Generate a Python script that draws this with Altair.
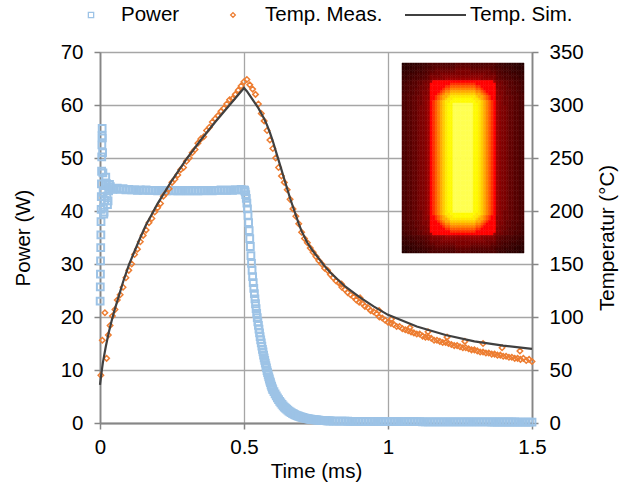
import altair as alt
import numpy as np
import pandas as pd

# ---------------- data ----------------
LEGEND = ["Power", "Temp. Meas.", "Temp. Sim."]

# Power (W) – start-up spike, ringing, plateau, switch-off decay, tail
PW_SPIKE_T = [0.0005, 0.001, 0.0015, 0.002, 0.0025, 0.003, 0.0035, 0.004, 0.0045, 0.005,
              0.0055, 0.006, 0.0065, 0.007, 0.0075]
PW_SPIKE = [23.0, 25.7, 28.1, 30.6, 33.1, 35.5, 38.0, 40.3, 42.7, 45.1,
            47.5, 50.2, 52.5, 54.2, 55.6]
PW_OSC_T = [0.008, 0.009, 0.010, 0.011, 0.012, 0.013, 0.014, 0.016, 0.018, 0.020,
            0.022, 0.024, 0.026, 0.028, 0.030, 0.033, 0.036, 0.040, 0.045]
PW_OSC = [53.8, 51.0, 47.2, 43.5, 40.6, 39.4, 39.8, 42.0, 45.3, 46.4,
          45.2, 42.8, 41.2, 41.9, 43.8, 45.0, 44.6, 44.2, 44.1]
PW_PLATEAU_START, PW_PLATEAU_STEP = 0.05, 0.01
PW_PLATEAU = [44.2, 44.3, 44.1, 44.2, 44.0, 44.1, 44.0, 44.0, 43.9, 44.0,
              43.9, 44.0, 43.9, 43.9, 43.9, 43.8, 43.9, 43.9, 43.8, 43.9,
              43.8, 43.9, 43.8, 43.8, 43.9, 43.8, 43.8, 43.9, 43.8, 43.8,
              43.9, 43.8, 43.9, 43.9, 43.8, 43.9, 43.9, 44.0, 43.9, 43.9,
              44.0, 43.9, 44.0, 44.0, 44.1, 44.0]
# fast switch-off, sampled every 0.002 ms from 0.502 ms
PW_DROP_START, PW_DROP_STEP = 0.502, 0.002
PW_DROP = [43.9, 43.6, 43.1, 42.4, 41.5, 40.4, 39.2, 37.8, 36.3, 34.8,
           33.3, 31.6, 30.1, 28.8, 27.6, 26.5, 25.4, 24.4, 23.4, 22.5,
           21.6, 20.7, 19.9, 19.1, 18.4, 17.7, 17.0, 16.3, 15.7, 15.1,
           14.5, 13.9, 13.4, 12.8, 12.3, 11.8, 11.3, 10.8, 10.4, 9.9,
           9.5, 9.1, 8.7, 8.3, 7.9, 7.6, 7.2, 6.9, 6.6, 6.3]
# slow part of the decay, every 0.004 ms from 0.604 ms
PW_DECAY_START, PW_DECAY_STEP = 0.604, 0.004
PW_DECAY = [5.9, 5.5, 5.1, 4.75, 4.4, 4.1, 3.8, 3.5, 3.25, 3.0,
            2.8, 2.6, 2.42, 2.25, 2.1, 1.96, 1.83, 1.71, 1.6, 1.5,
            1.41, 1.32, 1.24, 1.17, 1.1, 1.04, 0.98, 0.93, 0.88, 0.83,
            0.79, 0.75, 0.71, 0.68, 0.65, 0.62, 0.59, 0.57, 0.55, 0.53,
            0.51, 0.49, 0.47, 0.46, 0.44, 0.43, 0.42, 0.41, 0.40, 0.39]
PW_TAIL_START, PW_TAIL_STEP = 0.81, 0.01
PW_TAIL = [0.37, 0.36, 0.35, 0.34, 0.34, 0.33, 0.32, 0.32, 0.31,
           0.31, 0.30, 0.30, 0.29, 0.29, 0.28, 0.28, 0.28, 0.27, 0.27,
           0.27, 0.26, 0.26, 0.26, 0.25, 0.25, 0.25, 0.25, 0.24, 0.24,
           0.24, 0.24, 0.23, 0.23, 0.23, 0.23, 0.23, 0.22, 0.22, 0.22,
           0.22, 0.22, 0.22, 0.21, 0.21, 0.21, 0.21, 0.21, 0.21, 0.20,
           0.20, 0.20, 0.20, 0.20, 0.20, 0.20, 0.19, 0.19, 0.19, 0.19,
           0.19, 0.19, 0.19, 0.19, 0.19, 0.18, 0.18, 0.18, 0.18, 0.18,
           0.18]

# Measured temperature (°C)
MEAS_EARLY_T = [0.003, 0.008, 0.017, 0.023, 0.029, 0.035, 0.043, 0.052, 0.060]
MEAS_EARLY = [45, 78, 104, 61, 83, 92, 101, 107, 116]
MEAS_START, MEAS_STEP = 0.07, 0.01
MEAS = [121, 128, 137, 144, 150, 159, 164, 171, 177, 182,
        189, 193, 199, 203, 207, 214, 217, 221, 227, 230,
        234, 239, 241, 247, 250, 255, 258, 264, 268, 270,
        276, 279, 284, 287, 290, 294, 297, 301, 305, 306,
        310, 314, 318, 322,
        324, 319, 315, 310, 301, 292, 285, 276, 267, 259,
        250, 241, 233, 227, 220, 211, 202, 195, 188, 180,
        174, 170, 165, 161, 157, 153, 150, 146, 144, 140,
        137, 134, 132, 128, 126, 123, 121, 119, 116, 114,
        113, 110, 109, 106, 105, 103, 100, 99, 97, 95,
        94, 93, 91, 91, 89, 88, 87, 86, 85, 84,
        84, 82, 81, 81, 80, 78, 78, 77, 76, 76,
        75, 74, 73, 73, 72, 71, 71, 70, 69, 69,
        68, 67, 67, 66, 66, 65, 65, 64, 64, 63,
        63, 62, 62, 61, 61, 60, 61, 59, 60, 58]
MEAS_OUT_T = [0.839, 0.903, 0.969, 1.012, 1.076, 1.139, 1.205, 1.267, 1.330, 1.396, 1.458]
MEAS_OUT = [131, 118, 106, 98, 90, 86, 81, 77, 75, 71, 68]

# Simulated temperature (°C)
SIM_T = [0, 0.005, 0.01, 0.02, 0.03, 0.04, 0.05, 0.06, 0.07, 0.08,
         0.09, 0.10, 0.12, 0.14, 0.16, 0.18, 0.20, 0.25, 0.30, 0.35,
         0.40, 0.45, 0.50, 0.51, 0.52, 0.53, 0.54, 0.55, 0.56, 0.57,
         0.58, 0.59, 0.60, 0.61, 0.62, 0.63, 0.64, 0.65, 0.66, 0.67,
         0.68, 0.69, 0.70, 0.72, 0.74, 0.76, 0.78, 0.80, 0.85, 0.90,
         0.95, 1.00, 1.10, 1.20, 1.30, 1.40, 1.50]
SIM = [36, 47, 57, 72, 85, 96, 106, 115, 124, 133,
       141, 149, 162, 175, 187, 197, 207, 229, 249, 267,
       284, 300, 316, 313, 309, 305, 301, 297, 292, 287,
       281, 274, 266, 257, 248, 239, 230, 221, 212, 204,
       196, 188, 181, 170, 162, 155, 148, 142, 129, 119,
       110, 102, 91, 83, 77, 73, 70]

# Inset: thermal field of the heater, separable column / row profiles
INSET_COL = ([0.36, 0.39, 0.42, 0.45, 0.48, 0.51, 0.54, 0.58, 0.62, 0.66, 0.71]
             + [0.86, 0.88, 0.90, 0.92, 0.94, 0.957, 0.972, 0.984, 0.993, 0.998,
                1.0, 1.0, 1.0, 1.0, 1.0, 1.0,
                0.998, 0.993, 0.984, 0.972, 0.957, 0.94, 0.92, 0.90, 0.88, 0.86]
             + [0.71, 0.66, 0.62, 0.58, 0.54, 0.51, 0.48, 0.45, 0.42, 0.39, 0.36])
INSET_ROW = ([0.40, 0.46, 0.52, 0.58, 0.63, 0.68, 0.73]
             + [0.86, 0.88, 0.90, 0.92, 0.94, 0.957, 0.972, 0.984, 0.993, 0.998]
             + [1.0] * 42
             + [0.998, 0.993, 0.984, 0.972, 0.957, 0.94, 0.92, 0.90, 0.88, 0.86]
             + [0.73, 0.68, 0.63, 0.58, 0.52, 0.46, 0.40])
INSET_LEVELS = [0.16, 0.22, 0.28, 0.34, 0.40, 0.46, 0.52, 0.58, 0.64, 0.70,
                0.74, 0.87, 0.89, 0.91, 0.93, 0.95, 0.965, 0.98, 0.995]
INSET_COLORS = ["#240000", "#2e0000", "#380000", "#420000", "#4c0000", "#570000",
                "#630000", "#700000", "#7e0000", "#8d0000", "#9e0000", "#ff0000",
                "#ff3000", "#ff5c00", "#ff8400", "#ffaa00", "#ffcc00", "#ffe800",
                "#fffa00", "#ffff50"]

# ---------------- tables ----------------
def grid(start, step, n):
    return list(np.round(start + step * np.arange(n), 4))

power_df = pd.DataFrame({
    "t": PW_SPIKE_T + PW_OSC_T
         + grid(PW_PLATEAU_START, PW_PLATEAU_STEP, len(PW_PLATEAU))
         + grid(PW_DROP_START, PW_DROP_STEP, len(PW_DROP))
         + grid(PW_DECAY_START, PW_DECAY_STEP, len(PW_DECAY))
         + grid(PW_TAIL_START, PW_TAIL_STEP, len(PW_TAIL)),
    "p": PW_SPIKE + PW_OSC + PW_PLATEAU + PW_DROP + PW_DECAY + PW_TAIL,
})
meas_df = pd.DataFrame({
    "t": MEAS_EARLY_T + grid(MEAS_START, MEAS_STEP, len(MEAS)) + MEAS_OUT_T,
    "T": MEAS_EARLY + MEAS + MEAS_OUT,
})
sim_df = pd.DataFrame({"t": SIM_T, "T": SIM})
inset_df = pd.DataFrame([
    {"col": c, "row": r, "v": rv * cv}
    for r, rv in enumerate(INSET_ROW) for c, cv in enumerate(INSET_COL)
])

# ---------------- style ----------------
BLUE = "#9DC3E6"
ORANGE = "#ED7D31"
DARK = "#404040"
FONT = "Liberation Sans"
FS = 20.5
AX_COL = "#868686"
GRID_COL = "#a6a6a6"

W, H = 432, 371

x_scale = alt.Scale(domain=[0, 1.5], nice=False, zero=False)
x_axis = alt.Axis(values=[0, 0.5, 1, 1.5], format="~g", title="Time (ms)",
                  grid=True, gridColor=GRID_COL, gridWidth=1.3, labelFlush=False,
                  domainColor=AX_COL, domainWidth=1.8, tickColor=AX_COL, tickWidth=1.5,
                  tickSize=6, labelFontSize=FS, labelColor="#000000", labelPadding=8,
                  titleFontSize=FS, titleFontWeight="normal", titleColor="#000000",
                  titlePadding=4, labelFont=FONT, titleFont=FONT)

yl_axis = alt.Axis(values=list(range(0, 71, 10)), title="Power (W)",
                   grid=True, gridColor=GRID_COL, gridWidth=1.3, labelFlush=False,
                   domainColor=AX_COL, domainWidth=1.8, tickColor=AX_COL, tickWidth=1.5,
                   tickSize=6, labelFontSize=FS, labelColor="#000000", labelPadding=11,
                   titleFontSize=FS, titleFontWeight="normal", titleColor="#000000",
                   titlePadding=27, labelFont=FONT, titleFont=FONT)

yr_axis = alt.Axis(values=list(range(0, 351, 50)), title="Temperatur (°C)", orient="right",
                   grid=False, domainColor=AX_COL, domainWidth=1.8, tickColor=AX_COL,
                   tickWidth=1.5, tickSize=6, labelFontSize=FS, labelColor="#000000",
                   labelPadding=11, labelFlush=False, titleFontSize=FS,
                   titleFontWeight="normal", titleColor="#000000", titlePadding=14,
                   titleAngle=270, titleBaseline="top", labelFont=FONT, titleFont=FONT)

power = alt.Chart(power_df).mark_point(
    shape="square", filled=False, color=BLUE, size=46, strokeWidth=2.0, opacity=1
).encode(
    x=alt.X("t:Q", scale=x_scale, axis=x_axis),
    y=alt.Y("p:Q", scale=alt.Scale(domain=[0, 70], nice=False), axis=yl_axis),
)

t_scale = alt.Scale(domain=[0, 350], nice=False)
meas = alt.Chart(meas_df).mark_point(
    shape="diamond", filled=False, color=ORANGE, size=30, strokeWidth=1.5, opacity=1
).encode(
    x=alt.X("t:Q", scale=x_scale, axis=x_axis),
    y=alt.Y("T:Q", scale=t_scale, axis=yr_axis),
)
sim = alt.Chart(sim_df).mark_line(color=DARK, strokeWidth=2.2).encode(
    x=alt.X("t:Q", scale=x_scale, axis=x_axis),
    y=alt.Y("T:Q", scale=t_scale, axis=yr_axis),
)

main = alt.layer(power, alt.layer(meas, sim)).resolve_scale(y="independent")

heat_scale = alt.Scale(type="threshold", domain=INSET_LEVELS, range=INSET_COLORS)
inset = alt.Chart(inset_df).mark_rect(strokeWidth=0.5).encode(
    x=alt.X("col:O", scale=alt.Scale(range=[302, 424], paddingInner=0, paddingOuter=0), axis=None),
    y=alt.Y("row:O", scale=alt.Scale(range=[11, 201], paddingInner=0, paddingOuter=0), axis=None),
    color=alt.Color("v:Q", scale=heat_scale, legend=None),
    stroke=alt.Stroke("v:Q", scale=heat_scale, legend=None),
)

# legend (top)
LY = -37
leg_df = pd.DataFrame({"label": LEGEND})
leg_sq = alt.Chart(leg_df).transform_filter(alt.datum.label == LEGEND[0]).mark_point(
    shape="square", filled=False, color=BLUE, size=28, strokeWidth=1.3, opacity=1
).encode(x=alt.value(-9), y=alt.value(LY))
leg_dm = alt.Chart(leg_df).transform_filter(alt.datum.label == LEGEND[1]).mark_point(
    shape="diamond", filled=False, color=ORANGE, size=22, strokeWidth=1.3, opacity=1
).encode(x=alt.value(133), y=alt.value(LY))
leg_ln = alt.Chart(leg_df).transform_filter(alt.datum.label == LEGEND[2]).mark_rule(
    color=DARK, strokeWidth=2.2
).encode(x=alt.value(305), x2=alt.value(366), y=alt.value(LY))

def leg_text(i, xpos):
    return alt.Chart(leg_df).transform_filter(alt.datum.label == LEGEND[i]).mark_text(
        align="left", baseline="middle", fontSize=FS, font=FONT, color="#000000"
    ).encode(text="label:N", x=alt.value(xpos), y=alt.value(LY))

chart = alt.layer(
    main, inset, leg_sq, leg_dm, leg_ln, leg_text(0, 21), leg_text(1, 165), leg_text(2, 370)
).resolve_scale(
    x="independent", y="independent", color="independent", stroke="independent"
).properties(
    width=W, height=H,
    padding={"left": 100, "top": 52, "right": 103, "bottom": 65},
    autosize=alt.AutoSizeParams(type="none"),
    background="white",
).configure_view(stroke=None).configure(font=FONT)

chart.save("out.html", embed_options={"renderer": "svg", "actions": False})
